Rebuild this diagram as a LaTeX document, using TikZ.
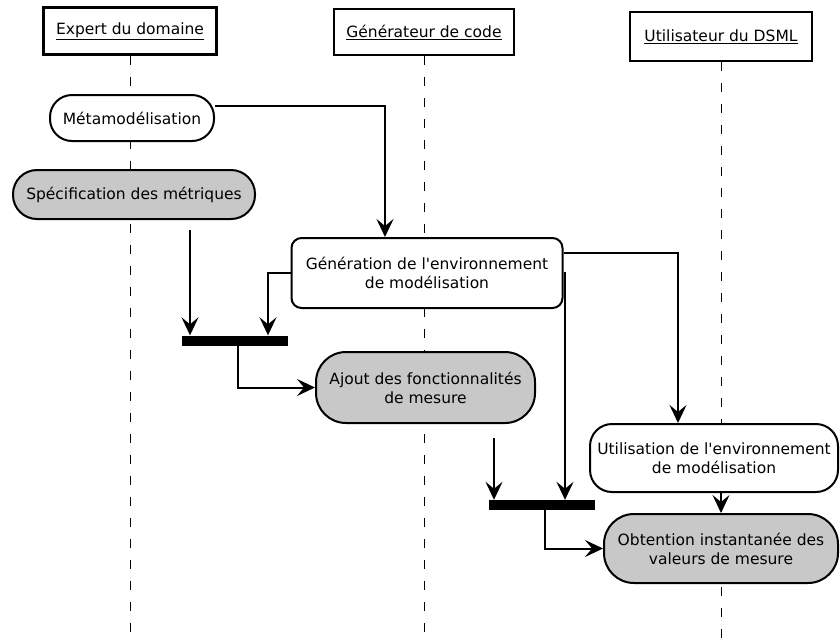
\documentclass[tikz,border=0pt]{standalone}
\usepackage{fontspec}
\setmainfont{DejaVu Sans}
\usetikzlibrary{arrows.meta,backgrounds}
\definecolor{actgray}{RGB}{200,200,200}
\begin{document}
\begin{tikzpicture}[x=1pt,y=-1pt,font=\fontsize{15.5}{19}\selectfont,
  actor/.style={draw,line width=2.4pt,inner sep=0pt},
  activity/.style={draw,line width=2pt,fill=white,align=center,inner sep=0pt},
  measure/.style={activity,fill=actgray},
  syncbar/.style={fill=black,minimum width=106pt,minimum height=10pt,inner sep=0pt},
  flow/.style={line width=2pt,-{Stealth[length=18pt,width=17pt,inset=7pt]}},
  lifeline/.style={line width=0.9pt,dash pattern=on 9pt off 12pt}]

\useasboundingbox (0,0) rectangle (840,641);

% acteurs
\node[actor,minimum width=173pt,minimum height=47pt] (expert) at (130,31) {\underline{Expert du domaine}};
\node[actor,minimum width=180pt,minimum height=46pt] (generateur) at (424,32) {\underline{Générateur de code}};
\node[actor,minimum width=182pt,minimum height=49pt] (utilisateur) at (721,36.5) {\underline{Utilisateur du DSML}};

% activites
\node[activity,rounded corners=22pt,minimum width=164pt,minimum height=46pt] (meta) at (132,118) {Métamodélisation};
\node[measure,rounded corners=24pt,minimum width=242pt,minimum height=49pt] (spec) at (134,194.5) {Spécification des métriques};
\node[activity,rounded corners=10pt,minimum width=271pt,minimum height=70pt] (gener) at (427,273) {Génération de l\textquotesingle environnement\\de modélisation};
\node[syncbar] (bar1) at (235,340.5) {};
\node[measure,rounded corners=30pt,minimum width=219pt,minimum height=71pt] (ajout) at (425.5,387.5) {Ajout des fonctionnalités\\de mesure};
\node[activity,rounded corners=22pt,minimum width=248pt,minimum height=68pt] (util) at (714,458) {Utilisation de l\textquotesingle environnement\\de modélisation};
\node[syncbar] (bar2) at (542,505) {};
\node[measure,rounded corners=30pt,minimum width=234pt,minimum height=69pt] (obt) at (721,548.5) {Obtention instantanée des\\valeurs de mesure};

\begin{scope}[on background layer]
  \draw[lifeline] (expert.south) -- (expert.south |- 0,641);
  \draw[lifeline] (generateur.south) -- (generateur.south |- 0,641);
  \draw[lifeline] (utilisateur.south) -- (utilisateur.south |- 0,641);
\end{scope}

\coordinate (b1a) at ([xshift=-45pt]bar1.north);
\coordinate (b2a) at ([xshift=-48pt]bar2.north);

\draw[flow] ([yshift=12pt]meta.east) -| ([xshift=-42pt]gener.north);
\draw[flow,shorten <=10pt] (spec.south -| b1a) -- (b1a);
\draw[flow] (gener.west) -| ([xshift=33pt]bar1.north);
\draw[flow] ([xshift=3pt]bar1.south) |- (ajout.west);
\draw[flow] ([yshift=20pt]gener.east) -| ([xshift=-36pt]util.north);
\draw[flow] (gener.east) -| ([xshift=23pt]bar2.north);
\draw[flow,shorten <=14pt] (ajout.south -| b2a) -- (b2a);
\draw[flow] ([xshift=3pt]bar2.south) |- (obt.west);
\draw[flow] (obt.north |- util.south) -- (obt.north);

\end{tikzpicture}
\end{document}
